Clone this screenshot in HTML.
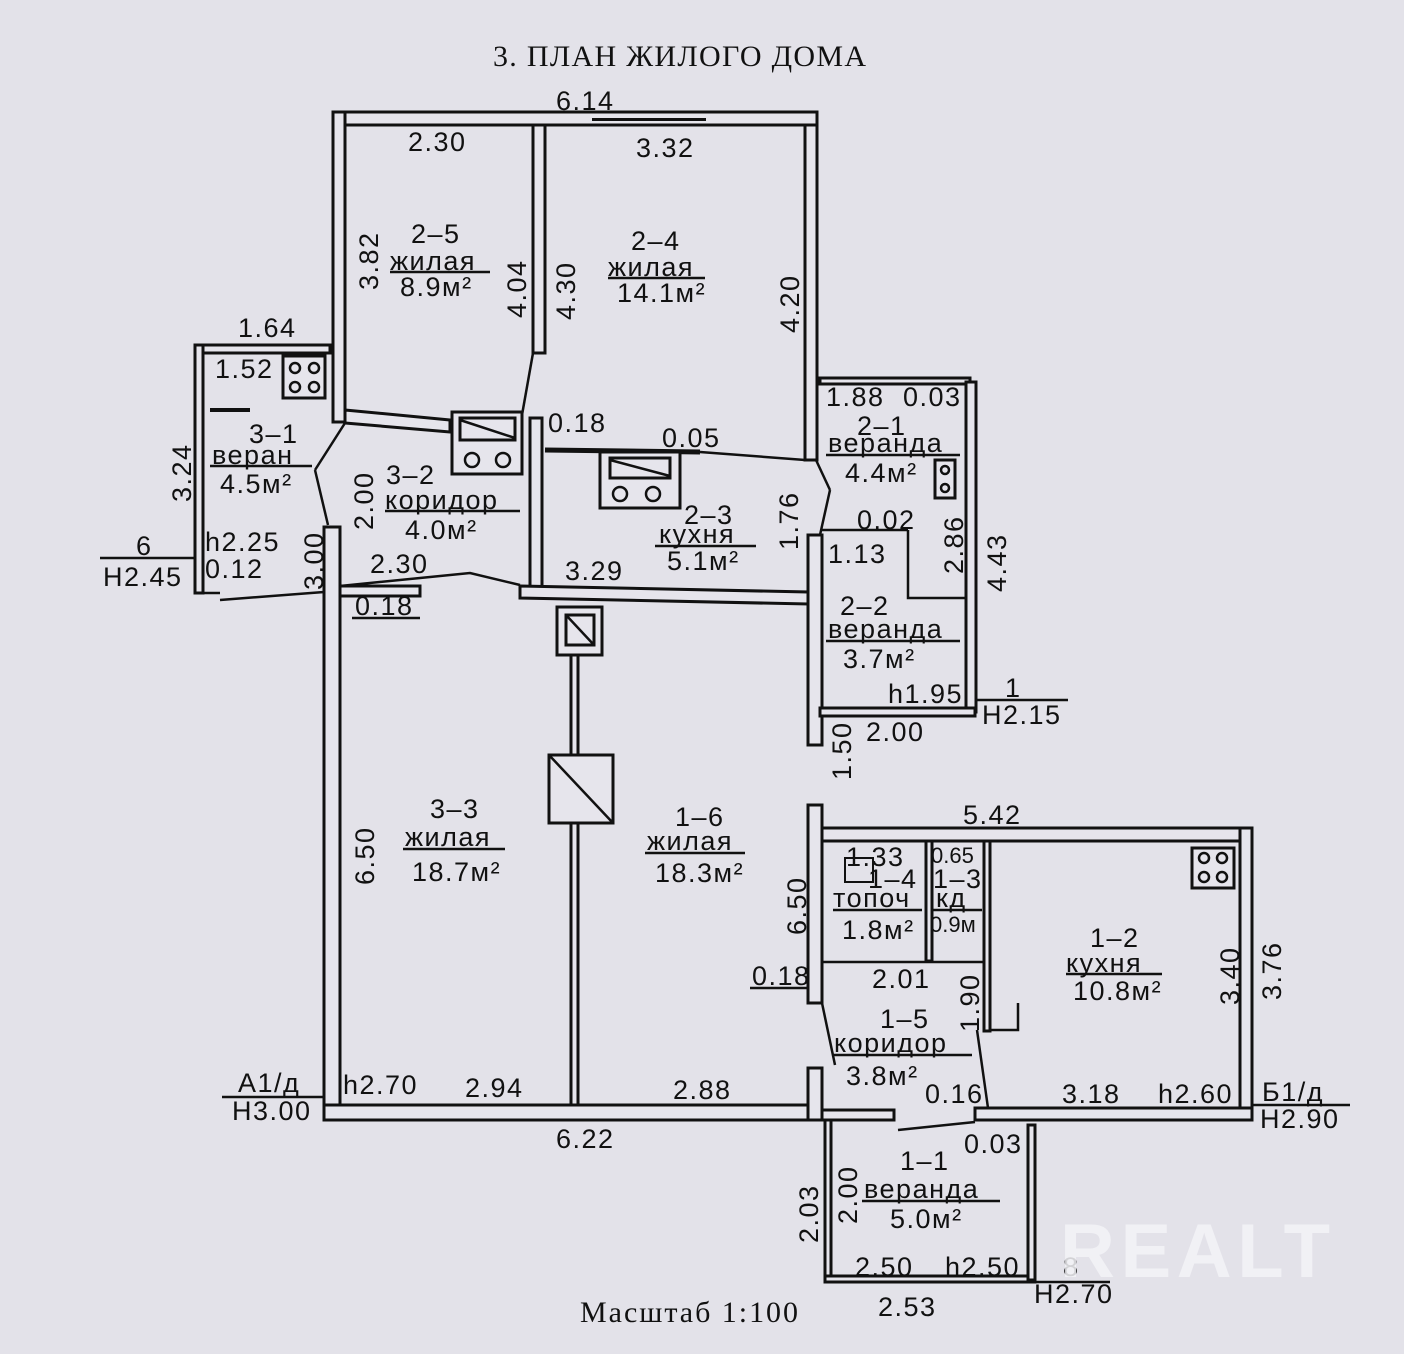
<!DOCTYPE html>
<html><head><meta charset="utf-8"><style>
html,body{margin:0;padding:0;background:#e3e2e9;}
svg{display:block}
text{font-family:"Liberation Sans",sans-serif;font-size:27px;letter-spacing:1.5px;fill:#111;}
.t{font-family:"Liberation Serif",serif;font-size:30px;letter-spacing:0;}
.w{fill:#e6e5ec;stroke:#111;stroke-width:3}
.l{stroke:#111;stroke-width:2.5;fill:none}
</style></head><body>
<svg width="1404" height="1354" viewBox="0 0 1404 1354">
<rect width="1404" height="1354" fill="#e3e2e9"/>
<text class="t" x="493" y="66" textLength="373">3. ПЛАН ЖИЛОГО ДОМА</text>
<text class="t" x="580" y="1322" textLength="218">Масштаб 1:100</text>

<rect class="w" x="333" y="112" width="484" height="13"/>
<rect x="592" y="118" width="114" height="3" fill="#111"/>
<rect class="w" x="333" y="112" width="12" height="310"/>
<rect class="w" x="805" y="125" width="12" height="335"/>
<rect x="809" y="215" width="4" height="70" fill="#e6e5ec"/>
<rect class="w" x="533" y="125" width="12" height="228"/>
<line class="l" x1="533" y1="353" x2="522" y2="415"/>
<polygon class="w" points="345,410 450,420 450,432 345,423"/>
<rect class="w" x="452" y="412" width="70" height="62"/>
<rect class="w" x="460" y="418" width="55" height="22"/>
<line class="l" x1="460" y1="420" x2="515" y2="438"/>
<circle class="l" cx="472" cy="460" r="7"/><circle class="l" cx="503" cy="460" r="7"/>
<rect class="w" x="530" y="418" width="12" height="170"/>
<line x1="545" y1="450" x2="700" y2="452" stroke="#111" stroke-width="5"/>
<line class="l" x1="700" y1="452" x2="805" y2="460"/>
<rect class="w" x="600" y="452" width="80" height="56"/>
<rect class="w" x="610" y="458" width="60" height="20"/>
<line class="l" x1="610" y1="460" x2="670" y2="476"/>
<circle class="l" cx="620" cy="494" r="7"/><circle class="l" cx="653" cy="494" r="7"/>
<line class="l" x1="345" y1="423" x2="315" y2="470"/><line class="l" x1="315" y1="470" x2="328" y2="525"/>
<line class="l" x1="816" y1="460" x2="830" y2="490"/><line class="l" x1="830" y1="490" x2="820" y2="535"/>

<rect class="w" x="324" y="527" width="16" height="593"/>
<rect x="328" y="700" width="5" height="60" fill="#e6e5ec"/>
<rect x="328" y="940" width="5" height="65" fill="#e6e5ec"/>
<rect class="w" x="324" y="1105" width="496" height="15"/>
<rect x="410" y="1109" width="66" height="6" fill="#e6e5ec"/>
<rect x="630" y="1109" width="80" height="6" fill="#e6e5ec"/>
<rect class="w" x="808" y="1068" width="14" height="52"/>
<rect class="w" x="808" y="535" width="14" height="210"/>
<rect class="w" x="808" y="805" width="14" height="198"/>
<rect class="w" x="340" y="586" width="80" height="10"/>
<polyline class="l" points="340,586 420,578 470,573 520,585"/>
<polygon class="w" points="520,586 808,592 808,604 520,598"/>
<rect class="w" x="557" y="607" width="45" height="48"/>
<rect class="w" x="566" y="615" width="28" height="30"/><line class="l" x1="566" y1="615" x2="594" y2="645"/>
<rect class="w" x="571" y="655" width="7" height="450"/>
<rect class="w" x="549" y="755" width="64" height="68"/><line class="l" x1="549" y1="755" x2="613" y2="823"/>

<rect class="w" x="820" y="378" width="150" height="6"/>
<rect class="w" x="966" y="382" width="10" height="330"/>
<rect class="w" x="820" y="708" width="155" height="8"/>
<polyline class="l" points="908,530 908,598 966,598"/>
<line class="l" x1="822" y1="530" x2="908" y2="530"/>
<rect class="w" x="935" y="460" width="20" height="38"/>
<circle class="l" cx="945" cy="470" r="4"/><circle class="l" cx="945" cy="488" r="4"/>
<line class="l" x1="975" y1="700" x2="1068" y2="700"/>

<rect class="w" x="195" y="345" width="135" height="8"/>
<rect class="w" x="195" y="345" width="8" height="248"/>
<line class="l" x1="203" y1="593" x2="220" y2="593"/>
<line x1="210" y1="410" x2="250" y2="410" stroke="#111" stroke-width="4"/>
<rect class="w" x="283" y="356" width="42" height="42"/>
<circle class="l" cx="295" cy="368" r="5"/><circle class="l" cx="314" cy="368" r="5"/><circle class="l" cx="295" cy="387" r="5"/><circle class="l" cx="314" cy="387" r="5"/>
<line class="l" x1="220" y1="600" x2="324" y2="592"/>
<line class="l" x1="100" y1="558" x2="195" y2="558"/>

<rect class="w" x="822" y="828" width="430" height="13"/>
<rect class="w" x="1240" y="828" width="12" height="290"/>
<rect x="1244" y="935" width="4" height="95" fill="#e6e5ec"/>
<rect class="w" x="975" y="1108" width="277" height="12"/>
<rect x="1128" y="1111" width="95" height="6" fill="#e6e5ec"/>
<rect class="w" x="822" y="1110" width="72" height="10"/>
<rect class="w" x="926" y="841" width="6" height="120"/>
<rect class="w" x="984" y="841" width="6" height="190"/>
<polyline class="l" points="990,1030 1018,1030 1018,1003"/>
<line class="l" x1="822" y1="962" x2="984" y2="962"/>
<rect x="845" y="858" width="28" height="24" fill="none" stroke="#111" stroke-width="2"/>
<rect class="w" x="1192" y="848" width="42" height="40"/>
<circle class="l" cx="1204" cy="858" r="5"/><circle class="l" cx="1222" cy="858" r="5"/><circle class="l" cx="1204" cy="877" r="5"/><circle class="l" cx="1222" cy="877" r="5"/>
<line class="l" x1="822" y1="1003" x2="835" y2="1065"/>
<line class="l" x1="977" y1="1030" x2="988" y2="1108"/>
<line class="l" x1="898" y1="1130" x2="975" y2="1122"/>
<line class="l" x1="1252" y1="1105" x2="1350" y2="1105"/>

<rect class="w" x="825" y="1120" width="6" height="162"/>
<rect class="w" x="825" y="1276" width="210" height="6"/>
<rect class="w" x="1028" y="1125" width="7" height="155"/>
<line class="l" x1="1035" y1="1282" x2="1110" y2="1282"/>
<line class="l" x1="222" y1="1097" x2="324" y2="1097"/>

<g>
<text x="556" y="110">6.14</text>
<text x="408" y="151">2.30</text><text x="636" y="157">3.32</text>
<text x="411" y="243">2–5</text><text x="390" y="270">жилая</text><line class="l" x1="390" y1="272" x2="490" y2="272"/><text x="400" y="296">8.9м²</text>
<text x="631" y="250">2–4</text><text x="608" y="276">жилая</text><line class="l" x1="608" y1="278" x2="705" y2="278"/><text x="617" y="302">14.1м²</text>
<text transform="translate(378,290) rotate(-90)">3.82</text>
<text transform="translate(526,318) rotate(-90)">4.04</text>
<text transform="translate(575,320) rotate(-90)">4.30</text>
<text transform="translate(799,333) rotate(-90)">4.20</text>
<text x="238" y="337">1.64</text><text x="215" y="378">1.52</text>
<text x="249" y="443">3–1</text><text x="212" y="464">веран</text><line class="l" x1="210" y1="466" x2="312" y2="466"/><text x="220" y="493">4.5м²</text>
<text transform="translate(191,502) rotate(-90)">3.24</text>
<text x="205" y="551">h2.25</text><text x="205" y="578">0.12</text>
<text x="136" y="555">6</text><text x="103" y="586">H2.45</text>
<text transform="translate(323,590) rotate(-90)">3.00</text>
<text transform="translate(373,530) rotate(-90)">2.00</text>
<text x="386" y="484">3–2</text><text x="385" y="509">коридор</text><line class="l" x1="385" y1="511" x2="520" y2="511"/><text x="405" y="539">4.0м²</text>
<text x="548" y="432">0.18</text><text x="662" y="447">0.05</text>
<text x="684" y="524">2–3</text><text x="659" y="543">кухня</text><line class="l" x1="655" y1="546" x2="756" y2="546"/><text x="667" y="570">5.1м²</text>
<text transform="translate(798,550) rotate(-90)">1.76</text>
<text x="370" y="573">2.30</text><text x="565" y="580">3.29</text>
<text x="355" y="615">0.18</text><line class="l" x1="352" y1="618" x2="420" y2="618"/>
<text x="826" y="406">1.88</text><text x="903" y="406">0.03</text>
<text x="857" y="435">2–1</text><text x="828" y="452">веранда</text><line class="l" x1="826" y1="455" x2="960" y2="455"/><text x="845" y="482">4.4м²</text>
<text x="857" y="529">0.02</text><text x="828" y="563">1.13</text>
<text transform="translate(963,574) rotate(-90)">2.86</text>
<text transform="translate(1006,592) rotate(-90)">4.43</text>
<text x="840" y="615">2–2</text><text x="828" y="638">веранда</text><line class="l" x1="826" y1="641" x2="960" y2="641"/><text x="843" y="668">3.7м²</text>
<text x="888" y="703">h1.95</text><text x="1005" y="697">1</text><text x="982" y="724">H2.15</text>
<text x="866" y="741">2.00</text>
<text transform="translate(851,780) rotate(-90)">1.50</text>
<text x="963" y="824">5.42</text>
<text x="846" y="866">1.33</text><text x="931" y="863" style="font-size:22px;letter-spacing:0">0.65</text>
<text x="868" y="888">1–4</text><text x="933" y="888">1–3</text>
<text x="833" y="907">топоч</text><line class="l" x1="833" y1="910" x2="922" y2="910"/><text x="936" y="907">кд</text><line class="l" x1="933" y1="910" x2="982" y2="910"/>
<text x="842" y="939">1.8м²</text><text x="930" y="932" style="font-size:22px;letter-spacing:0">0.9м</text>
<text transform="translate(806,935) rotate(-90)">6.50</text>
<text x="752" y="985">0.18</text><line class="l" x1="750" y1="988" x2="808" y2="988"/>
<text x="872" y="988">2.01</text>
<text transform="translate(979,1032) rotate(-90)">1.90</text>
<text x="1090" y="947">1–2</text><text x="1066" y="972">кухня</text><line class="l" x1="1066" y1="974" x2="1162" y2="974"/><text x="1073" y="1000">10.8м²</text>
<text transform="translate(1239,1005) rotate(-90)">3.40</text>
<text transform="translate(1281,1000) rotate(-90)">3.76</text>
<text x="880" y="1028">1–5</text><text x="834" y="1052">коридор</text><line class="l" x1="834" y1="1055" x2="972" y2="1055"/><text x="846" y="1085">3.8м²</text>
<text x="925" y="1103">0.16</text><text x="1062" y="1103">3.18</text><text x="1158" y="1103">h2.60</text>
<text x="1262" y="1101">Б1/д</text><text x="1260" y="1128">H2.90</text>
<text x="964" y="1153">0.03</text>
<text x="900" y="1170">1–1</text><text x="864" y="1198">веранда</text><line class="l" x1="862" y1="1201" x2="1000" y2="1201"/><text x="890" y="1228">5.0м²</text>
<text transform="translate(818,1243) rotate(-90)">2.03</text>
<text transform="translate(857,1224) rotate(-90)">2.00</text>
<text x="855" y="1276">2.50</text><text x="945" y="1276">h2.50</text><text x="1063" y="1276">8</text>
<text x="1034" y="1303">H2.70</text><text x="878" y="1316">2.53</text>
<text x="343" y="1094">h2.70</text><text x="465" y="1097">2.94</text><text x="673" y="1099">2.88</text>
<text x="238" y="1092">А1/д</text><text x="232" y="1120">H3.00</text>
<text x="556" y="1148">6.22</text>
<text transform="translate(374,885) rotate(-90)">6.50</text>
<text x="430" y="818">3–3</text><text x="405" y="846">жилая</text><line class="l" x1="403" y1="849" x2="505" y2="849"/><text x="412" y="881">18.7м²</text>
<text x="675" y="826">1–6</text><text x="647" y="850">жилая</text><line class="l" x1="645" y1="853" x2="745" y2="853"/><text x="655" y="882">18.3м²</text>
<text x="1060" y="1277" textLength="270" style="font-size:76px;font-weight:bold;fill:#f4f4f8;opacity:0.85;letter-spacing:0">REALT</text>
</g>
</svg>
</body></html>
